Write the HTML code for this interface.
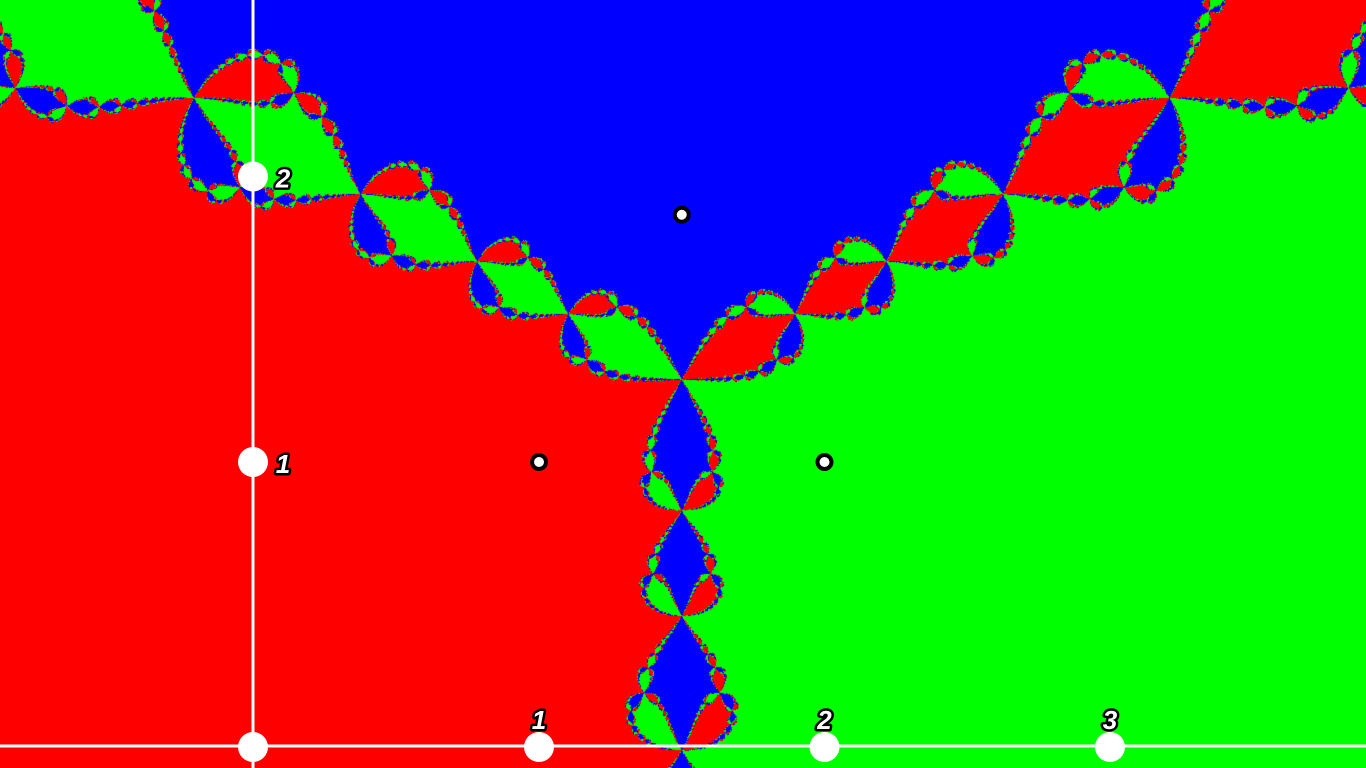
<!DOCTYPE html>
<html><head><meta charset="utf-8"><title>Newton fractal</title>
<style>
html,body{margin:0;padding:0;background:#000;overflow:hidden}
#wrap{position:relative;width:1366px;height:768px}
canvas,svg{position:absolute;left:0;top:0}
.lbl{font-family:"Liberation Sans",sans-serif;font-weight:bold;font-style:italic;font-size:26px;fill:#fff;stroke:#000;stroke-width:5px;paint-order:stroke;stroke-linejoin:round}
</style></head>
<body>
<div id="wrap">
<canvas id="c" width="1366" height="768"></canvas>
<svg id="s" width="1366" height="768"></svg>
</div>
<script>
const rootsX = [1, 2, 1.5];
const rootsY = [1, 1, 1.8660254];
const rootColors = [[255,0,0],[0,255,0],[0,0,255]];
const xTicks = [1, 2, 3];
const yTicks = [1, 2];
const xTickLabels = ["1","2","3"];
const yTickLabels = ["1","2"];

const W = 1366, H = 768, OX = 253.5, OY = 747.5, S = 285.5;
function sx(x){return OX + S*x;}
function sy(y){return OY - S*y;}

const ctx = document.getElementById('c').getContext('2d');
const img = ctx.createImageData(W,H);
const d = img.data;
for(let py=0;py<H;py++){
  for(let px=0;px<W;px++){
    let zr=(px+0.5-OX)/S, zi=(OY-(py+0.5))/S;
    let best=0;
    for(let it=0;it<60;it++){
      let sr=0, si=0, hit=-1;
      for(let k=0;k<3;k++){
        const ar=zr-rootsX[k], ai=zi-rootsY[k];
        const m=ar*ar+ai*ai;
        if(m<1e-10){hit=k;break;}
        sr+=ar/m; si+=-ai/m;
      }
      if(hit>=0){best=hit;break;}
      const m2=sr*sr+si*si;
      zr-= sr/m2; zi-= -si/m2;
    }
    let bd=1e9;
    for(let k=0;k<3;k++){const dd=(zr-rootsX[k])**2+(zi-rootsY[k])**2; if(dd<bd){bd=dd;best=k;}}
    const i=(py*W+px)*4, c=rootColors[best];
    d[i]=c[0];d[i+1]=c[1];d[i+2]=c[2];d[i+3]=255;
  }
}
ctx.putImageData(img,0,0);

const svg=document.getElementById('s'), NS='http://www.w3.org/2000/svg';
function mk(tag,attrs){const e=document.createElementNS(NS,tag);for(const k in attrs)e.setAttribute(k,attrs[k]);svg.appendChild(e);return e;}
let e;
e=mk('line',{x1:0,y1:746,x2:W,y2:746,stroke:'#fff','stroke-width':3});


e=mk('line',{x1:253,y1:0,x2:253,y2:H,stroke:'#fff','stroke-width':3});


e=mk('circle',{cx:253,cy:747,r:15,fill:'#fff'});


xTicks.forEach((v,i)=>{
  let c=mk('circle',{cx:sx(v),cy:747,r:15,fill:'#fff'});
  
  
  let t=mk('text',{x:sx(v),y:729,'text-anchor':'middle',class:'lbl'});
  t.textContent=xTickLabels[i];
  
  
});
yTicks.forEach((v,i)=>{
  let c=mk('circle',{cx:253,cy:sy(v),r:15,fill:'#fff'});
  
  
  let t=mk('text',{x:283,y:sy(v)+11,'text-anchor':'middle',class:'lbl'});
  t.textContent=yTickLabels[i];
  
  
});
rootsX.forEach((x,i)=>{
  let c=mk('circle',{cx:sx(x),cy:sy(rootsY[i]),r:7,fill:'#fff',stroke:'#000','stroke-width':4});
  
  
});
</script>
</body></html>
